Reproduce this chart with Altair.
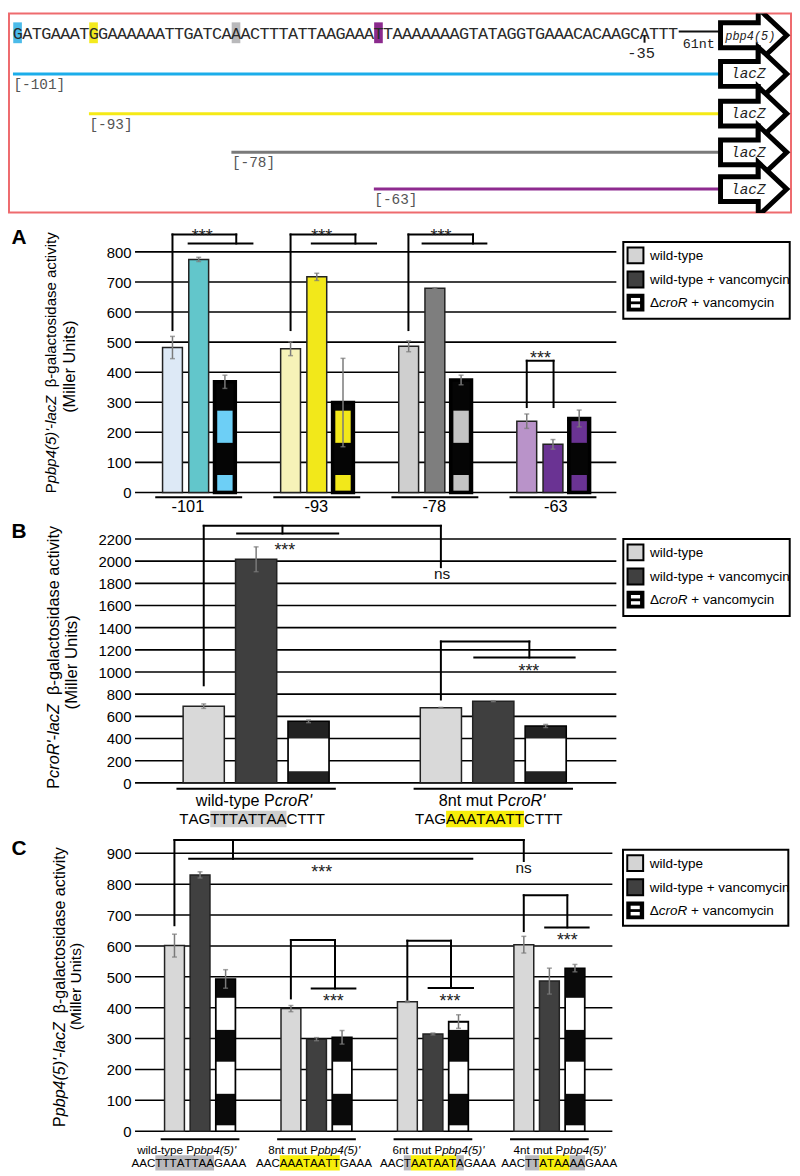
import altair as alt
import pandas as pd

SANS = "Liberation Sans, Arial, Helvetica, sans-serif"
MONO = "Courier New, Liberation Mono, monospace"

# ======================= DATA =======================
# --- schematic of the promoter truncations ---
SEQ = "GATGAAATGGAAAAAATTGATCAAACTTTATTAAGAAATTAAAAAAAGTATAGGTGAAACACAAGCATTT"
SEQ_START = -101
TRUNC_STARTS = [-101, -93, -78, -63]
TRUNC_LABELS = ["[-101]", "[-93]", "[-78]", "[-63]"]
TRUNC_LINE_COLORS = ["#1badea", "#f5ea16", "#7a7a7a", "#8e2b8f"]
TRUNC_HL_COLORS = ["#4bbbe9", "#f4ea1e", "#b9b9bb", "#8b2a8d"]
MARK_POS = -35
MARK_LABEL = "-35"
GAP_LABEL = "61nt"
ARROW_LABELS = ["pbp4(5)", "lacZ", "lacZ", "lacZ", "lacZ"]

# --- panel A ---
A_GROUPS = ["-101", "-93", "-78", "-63"]
A_WT = [482, 478, 486, 237]
A_WT_ERR = [37, 23, 18, 24]
A_VANC = [775, 717, 679, 160]
A_VANC_ERR = [7, 12, 2, 16]
A_DCROR = [368, 299, 374, 246]
A_DCROR_ERR = [22, 147, 16, 28]
A_WT_COLORS = ["#dde9f6", "#f6f2b8", "#cfcfcf", "#b993c9"]
A_VANC_COLORS = ["#62c6cb", "#f2e81a", "#7e7e7e", "#6a3393"]
A_STRIPE_COLORS = ["#6dcff6", "#f2e81a", "#c4c4c4", "#6a3393"]
A_BRACKETS = [
    (-0.222, 540, -0.222, 858), (-0.222, 858, 0.318, 858), (0.318, 858, 0.318, 828), (-0.085, 828, 0.455, 828),
    (0.778, 540, 0.778, 858), (0.778, 858, 1.327, 858), (1.327, 858, 1.327, 828), (0.958, 828, 1.502, 828),
    (1.776, 540, 1.776, 858), (1.776, 858, 2.323, 858), (2.323, 858, 2.323, 828), (1.896, 828, 2.436, 828),
    (2.778, 284, 2.778, 438), (2.778, 438, 3.005, 438), (3.005, 438, 3.005, 284),
]
A_SIG = [(0.03, 866, "***"), (1.042, 866, "***"), (2.052, 866, "***"), (2.894, 459, "***")]

# --- panel B ---
B_GROUPS = [[("wild-type P", False), ("croR'", True)], [("8nt mut P", False), ("croR'", True)]]
B_SEQS = ["TAGTTTATTAACTTT", "TAGAAATAATTCTTT"]
B_SEQ_HL = [[(3, 11, "gray")], [(3, 11, "yellow")]]
B_WT = [692, 677]
B_WT_ERR = [20, 4]
B_VANC = [2017, 737]
B_VANC_ERR = [112, 4]
B_DCROR = [555, 513]
B_DCROR_ERR = [12, 14]
B_BRACKETS = [
    (-0.221, 880, -0.221, 2319), (-0.221, 2319, 0.779, 2319), (0.779, 2319, 0.779, 1946),
    (0.111, 2319, 0.111, 2250), (-0.08, 2250, 0.346, 2250),
    (0.779, 752, 0.779, 1275), (0.779, 1275, 1.152, 1275), (1.152, 1275, 1.152, 1131), (0.92, 1131, 1.343, 1131),
]
B_SIG = [(0.121, 2140, "***"), (0.784, 1880, "ns"), (1.15, 1043, "***")]

# --- panel C ---
C_GROUPS = [[("wild-type P", False), ("pbp4(5)'", True)], [("8nt mut P", False), ("pbp4(5)'", True)],
            [("6nt mut P", False), ("pbp4(5)'", True)], [("4nt mut P", False), ("pbp4(5)'", True)]]
C_SEQS = ["AACTTTATTAAGAAA", "AACAAATAATTGAAA", "AACTAATAATAGAAA", "AACTTATAAAAGAAA"]
C_SEQ_HL = [[(3, 11, "gray")], [(3, 11, "yellow")],
            [(3, 4, "gray"), (4, 10, "yellow"), (10, 11, "gray")],
            [(3, 5, "gray"), (5, 9, "yellow"), (9, 11, "gray")]]
C_WT = [601, 397, 419, 604]
C_WT_ERR = [37, 10, 2, 27]
C_VANC = [830, 298, 315, 486]
C_VANC_ERR = [10, 5, 3, 42]
C_DCROR = [493, 304, 355, 528]
C_DCROR_ERR = [30, 22, 22, 12]
C_BRACKETS = [
    (-0.22, 667, -0.22, 943), (-0.22, 943, 2.78, 943), (2.78, 943, 2.78, 875),
    (0.283, 943, 0.283, 882), (-0.093, 882, 2.338, 882),
    (0.78, 430, 0.78, 619), (0.78, 619, 1.159, 619), (1.159, 619, 1.159, 462), (0.959, 462, 1.334, 462),
    (1.78, 426, 1.78, 617), (1.78, 617, 2.155, 617), (2.155, 617, 2.155, 464), (1.963, 464, 2.344, 464),
    (2.78, 648, 2.78, 764), (2.78, 764, 3.154, 764), (3.154, 764, 3.154, 660), (2.964, 660, 3.337, 660),
]
C_SIG = [(1.045, 851, "***"), (2.778, 853, "ns"), (1.145, 434, "***"), (2.146, 434, "***"), (3.154, 633, "***")]

LEGEND_LABELS = [[("wild-type", False)], [("wild-type + vancomycin", False)],
                 [("Δ", False), ("croR", True), (" + vancomycin", False)]]
LEGEND_COLORS = ["#d4d4d4", "#404040", "#000000"]

TITLE_A = [("P", False), ("pbp4(5)'", True), ("-", False), ("lacZ", True), ("  β-galactosidase activity", False)]
TITLE_B = [("P", False), ("croR'", True), ("-", False), ("lacZ", True), ("  β-galactosidase activity", False)]
TITLE_2 = [("(Miller Units)", False)]

# ======================= helpers =======================
AW = {' ': 278, "'": 191, '(': 333, ')': 333, '*': 389, '+': 584, '-': 333, '.': 278, '[': 278, ']': 278,
      'A': 667, 'B': 667, 'C': 722, 'D': 722, 'E': 667, 'F': 611, 'G': 778, 'H': 722, 'I': 278, 'J': 500,
      'K': 667, 'L': 556, 'M': 833, 'N': 722, 'O': 778, 'P': 667, 'Q': 778, 'R': 722, 'S': 667, 'T': 611,
      'U': 722, 'V': 667, 'W': 944, 'X': 667, 'Y': 667, 'Z': 611,
      'a': 556, 'b': 556, 'c': 500, 'd': 556, 'e': 556, 'f': 278, 'g': 556, 'h': 556, 'i': 222, 'j': 222,
      'k': 500, 'l': 222, 'm': 833, 'n': 556, 'o': 556, 'p': 556, 'q': 556, 'r': 333, 's': 500, 't': 278,
      'u': 556, 'v': 500, 'w': 722, 'x': 500, 'y': 500, 'z': 500, 'β': 575, 'Δ': 668}


def tw(s, fs):
    return sum(AW.get(ch, 556) for ch in s) * fs / 1000.0


def fit_fs(segs, length):
    return length / tw("".join(s for s, _ in segs), 1.0)


OX = 136.0  # page x of every panel's plot origin


class Txt:
    def __init__(self, oy):
        self.oy, self.g = oy, {}

    def add(self, x, y, t, s, c="#000000", italic=False, bold=False, align="left", angle=0, font=SANS):
        key = (italic, bold, align, angle, font)
        self.g.setdefault(key, []).append({"x": x - OX, "y": y - self.oy, "t": t, "s": s, "c": c})

    def rich(self, segs, x, y, fs, c="#000000", angle=0, font=SANS):
        total = sum(tw(s, fs) for s, _ in segs)
        d = -total / 2.0
        for s, it in segs:
            body = s.lstrip(" ")
            d0 = d + tw(s[:len(s) - len(body)], fs)
            body = body.rstrip(" ")
            if body:
                if angle == 0:
                    self.add(x + d0, y, body, fs, c, it, align="left", font=font)
                else:
                    self.add(x, y - d0, body, fs, c, it, align="left", angle=angle, font=font)
            d += tw(s, fs)

    def seq(self, rects, seq, hls, cx, cy, fs, hh, hlcol):
        total = tw(seq, fs)
        x = cx - total / 2.0
        for a, b, k in hls:
            rects.add(x + tw(seq[:a], fs), cy - hh / 2, x + tw(seq[:b], fs), cy + hh / 2, hlcol[k])
        for ch in seq:
            w = tw(ch, fs)
            self.add(x + w / 2, cy, ch, fs, align="center")
            x += w

    def layers(self):
        out = []
        for (it, bd, al, an, fo), rows in self.g.items():
            out.append(alt.Chart(pd.DataFrame(rows)).mark_text(
                align=al, baseline="middle", font=fo, angle=an,
                fontStyle="italic" if it else "normal", fontWeight="bold" if bd else "normal").encode(
                x=alt.X("x:Q", scale=None, axis=None), y=alt.Y("y:Q", scale=None, axis=None),
                text=alt.Text("t:N"), size=alt.Size("s:Q", scale=None, legend=None),
                color=alt.Color("c:N", scale=None, legend=None)))
        return out


class Rects:
    def __init__(self, oy):
        self.oy, self.rows = oy, []

    def add(self, x1, y1, x2, y2, c):
        self.rows.append({"x": x1 - OX, "x2": x2 - OX, "y": y1 - self.oy, "y2": y2 - self.oy, "c": c})

    def layer(self, **mk):
        return alt.Chart(pd.DataFrame(self.rows)).mark_rect(**mk).encode(
            x=alt.X("x:Q", scale=None, axis=None), x2="x2:Q",
            y=alt.Y("y:Q", scale=None, axis=None), y2="y2:Q",
            color=alt.Color("c:N", scale=None, legend=None))


def legend_layers(top, box):
    x0, y0, x1, y1 = box
    frame = Rects(top)
    frame.add(x0, y0, x1, y1, "#ffffff")
    sw = Rects(top)
    inner = Rects(top)
    t = Txt(top)
    for k, off in enumerate([13.5, 37.8, 61.1]):
        yc = y0 + off
        sx0 = x0 + 4.3
        sw.add(sx0, yc - 8, sx0 + 16, yc + 8, LEGEND_COLORS[k])
        if k == 2:
            inner.add(sx0 + 3.4, yc - 4.7, sx0 + 12.6, yc - 1.2, "#ffffff")
            inner.add(sx0 + 3.4, yc + 1.6, sx0 + 12.6, yc + 5.1, "#ffffff")
        segs = LEGEND_LABELS[k]
        total = sum(tw(s, 13.6) for s, _ in segs)
        t.rich(segs, x0 + 27 + total / 2, yc + 0.5, 13.6)
    return [frame.layer(stroke="#000000", strokeWidth=2),
            sw.layer(stroke="#000000", strokeWidth=2),
            inner.layer()] + t.layers()


def bar_panel(cfg):
    xs = alt.Scale(domain=cfg["xdom"], nice=False, zero=False)
    ys = alt.Scale(domain=[0, cfg["ymax"]], nice=False, zero=False)
    off = cfg["off"]
    n = len(cfg["wt"])
    X = lambda f: alt.X(f, scale=xs, axis=None)
    Y = lambda f: alt.Y(f, scale=ys, axis=None)

    r12, r3, rs, re = [], [], [], []
    for g in range(n):
        r12.append({"x": g - off, "v": cfg["wt"][g], "c": cfg["c1"][g]})
        r12.append({"x": g, "v": cfg["vc"][g], "c": cfg["c2"][g]})
        r3.append({"x": g + off, "v": cfg["dl"][g]})
        for lo, hi in cfg["bands"]:
            lo2 = max(lo, cfg["clip_lo"])
            hi2 = min(hi, cfg["dl"][g] - cfg["clip_top"])
            if hi2 > lo2:
                rs.append({"x": g + off, "lo": lo2, "hi": hi2, "c": cfg["sc"][g]})
        for j, (v, e) in enumerate([(cfg["wt"][g], cfg["wte"][g]), (cfg["vc"][g], cfg["vce"][g]),
                                    (cfg["dl"][g], cfg["dle"][g])]):
            re.append({"x": g + (j - 1) * off, "lo": v - e, "hi": v + e})

    L = []
    gd = pd.DataFrame({"v": cfg["ticks"]})
    L.append(alt.Chart(pd.DataFrame(r12)).mark_bar(size=cfg["bw"], stroke="#222222", strokeWidth=1.5,
                                                  orient="vertical").encode(
        x=X("x:Q"), y=alt.Y("v:Q", scale=ys, axis=None, stack=None),
        color=alt.Color("c:N", scale=None, legend=None)))
    # gridlines + tick labels drawn from the y scale (under the bars via zindex order below)
    grid = alt.Chart(gd).mark_rule(color="#000000", strokeWidth=1.6).encode(
        y=Y("v:Q"), x=alt.value(0), x2=alt.value(cfg["w"]))
    labels = alt.Chart(gd).mark_text(align="right", baseline="middle", font=SANS, fontSize=15,
                                     color="#000000", dy=1).encode(
        y=Y("v:Q"), x=alt.value(-3.5), text=alt.Text("v:Q", format="d"))
    L = [L[0].mark_bar(size=cfg["bw"], stroke="#222222", strokeWidth=1.5, orient="vertical")]
    L.insert(0, grid)
    L.append(labels)
    L.append(alt.Chart(pd.DataFrame(r3)).mark_bar(size=cfg["bw3"], fill=cfg["b3fill"], stroke="#000000",
                                                 strokeWidth=cfg["b3sw"], orient="vertical").encode(
        x=X("x:Q"), y=alt.Y("v:Q", scale=ys, axis=None, stack=None)))
    L.append(alt.Chart(pd.DataFrame(rs)).mark_bar(size=cfg["sw"], orient="vertical").encode(
        x=X("x:Q"), y=Y("lo:Q"), y2="hi:Q", color=alt.Color("c:N", scale=None, legend=None)))
    ed = pd.DataFrame(re)
    L.append(alt.Chart(ed).mark_rule(color="#7a7a7a", strokeWidth=1.5).encode(x=X("x:Q"), y=Y("lo:Q"), y2="hi:Q"))
    for f in ["lo", "hi"]:
        L.append(alt.Chart(ed).mark_tick(orient="horizontal", size=5, thickness=1.5, color="#7a7a7a").encode(
            x=X("x:Q"), y=Y(f + ":Q")))
    bd = pd.DataFrame(cfg["brackets"], columns=["x1", "y1", "x2", "y2"])
    L.append(alt.Chart(bd).mark_rule(color="#000000", strokeWidth=2, strokeCap="square").encode(
        x=X("x1:Q"), x2="x2:Q", y=Y("y1:Q"), y2="y2:Q"))
    sd = pd.DataFrame(cfg["sig"], columns=["x", "y", "t"])
    stars = sd[sd["t"] == "***"]
    nss = sd[sd["t"] == "ns"]
    L.append(alt.Chart(stars).mark_text(fontSize=18, dy=5, font=SANS, color="#222222").encode(
        x=X("x:Q"), y=Y("y:Q"), text="t:N"))
    if len(nss):
        L.append(alt.Chart(nss).mark_text(fontSize=15.5, font=SANS, color="#111111").encode(
            x=X("x:Q"), y=Y("y:Q"), text="t:N"))
    ud = pd.DataFrame([{"x1": g - cfg["uh"], "x2": g + cfg["uh"], "py": cfg["uy"] - cfg["top"]} for g in range(n)])
    L.append(alt.Chart(ud).mark_rule(color="#000000", strokeWidth=2).encode(
        x=X("x1:Q"), x2="x2:Q", y=alt.Y("py:Q", scale=None, axis=None)))
    L += cfg["extra"]
    return alt.layer(*L).properties(width=cfg["w"], height=cfg["h"])


# ======================= schematic panel =======================
D_TOP, D_H, D_W = 9.0, 201.0, 662.0
CW, SEQ_X0 = 9.57, 13.0
p0 = SEQ_START + (OX - SEQ_X0) / CW
p1 = p0 + D_W / CW
xsD = alt.Scale(domain=[p0, p1], nice=False, zero=False)


def a2p(a):
    return SEQ_START + (a - SEQ_X0) / CW


XD = lambda f: alt.X(f, scale=xsD, axis=None)
YP = lambda f: alt.Y(f, scale=None, axis=None)
LINE_Y = [70, 110, 149, 186]
ARROW_Y = [31, 70, 110, 149, 186]

frame = Rects(D_TOP)
frame.add(8, 8, 798, 210.5, "#ee6b6e")
frame.add(10, 10, 796, 208.5, "#ffffff")
dl = [frame.layer()]
hl = pd.DataFrame([{"x": s + 0.03, "x2": s + 0.94, "y": 18 - D_TOP, "y2": 39 - D_TOP, "c": TRUNC_HL_COLORS[k]}
                   for k, s in enumerate(TRUNC_STARTS)])
dl.append(alt.Chart(hl).mark_rect().encode(x=XD("x:Q"), x2="x2:Q", y=YP("y:Q"), y2="y2:Q",
                                           color=alt.Color("c:N", scale=None, legend=None)))
chars = pd.DataFrame([{"x": SEQ_START + i + 0.5, "y": 29.5 - D_TOP, "t": ch} for i, ch in enumerate(SEQ)])
dl.append(alt.Chart(chars).mark_text(font=MONO, fontSize=17, color="#2a2a2a", baseline="middle").encode(
    x=XD("x:Q"), y=YP("y:Q"), text="t:N"))
end_pos = a2p(727)
lines = pd.DataFrame([{"x": s, "x2": end_pos, "y": LINE_Y[k] - D_TOP, "c": TRUNC_LINE_COLORS[k]}
                      for k, s in enumerate(TRUNC_STARTS)])
dl.append(alt.Chart(lines).mark_rule(strokeWidth=3).encode(x=XD("x:Q"), x2="x2:Q", y=YP("y:Q"),
                                                           color=alt.Color("c:N", scale=None, legend=None)))
segs = pd.DataFrame([
    {"x": SEQ_START + len(SEQ) + 0.1, "x2": end_pos, "y": 27.2 - D_TOP, "y2": 27.2 - D_TOP},
    {"x": MARK_POS + 0.5, "x2": MARK_POS + 0.5, "y": 31.5 - D_TOP, "y2": 38.5 - D_TOP},
])
dl.append(alt.Chart(segs).mark_rule(strokeWidth=2, color="#111111").encode(
    x=XD("x:Q"), x2="x2:Q", y=YP("y:Q"), y2="y2:Q"))
lab = pd.DataFrame([{"x": s + 0.05, "y": LINE_Y[k] + 11 - D_TOP, "t": TRUNC_LABELS[k]}
                    for k, s in enumerate(TRUNC_STARTS)])
dl.append(alt.Chart(lab).mark_text(font=MONO, fontSize=14.5, color="#555555", align="left",
                                   baseline="middle").encode(x=XD("x:Q"), y=YP("y:Q"), text="t:N"))
misc = pd.DataFrame([{"x": a2p(646), "y": 48.5 - D_TOP, "t": MARK_LABEL, "s": 15.5},
                     {"x": a2p(704), "y": 39.5 - D_TOP, "t": GAP_LABEL, "s": 13.5}])
dl.append(alt.Chart(misc).mark_text(font=MONO, color="#222222", baseline="middle").encode(
    x=XD("x:Q"), y=YP("y:Q"), text="t:N", size=alt.Size("s:Q", scale=None, legend=None)))
ARROW = "M-1,-0.375L0.139,-0.375L0.139,-0.81L1,0L0.139,0.81L0.139,0.375L-1,0.375Z"
arr = pd.DataFrame([{"x": a2p(759.35), "y": yy - D_TOP} for yy in ARROW_Y])
dl.append(alt.Chart(arr).mark_point(shape=ARROW, size=4449, filled=True, fill="#ffffff", stroke="#000000",
                                    strokeWidth=5, opacity=1, clip=True).encode(x=XD("x:Q"), y=YP("y:Q")))
alab = pd.DataFrame([{"x": a2p(756 if k == 0 else 754), "y": ARROW_Y[k] + 0.5 - D_TOP, "t": t,
                      "s": 12 if k == 0 else 14.5} for k, t in enumerate(ARROW_LABELS)])
dl.append(alt.Chart(alab).mark_text(font=MONO, fontStyle="italic", color="#222222", baseline="middle").encode(
    x=XD("x:Q"), y=YP("y:Q"), text="t:N", size=alt.Size("s:Q", scale=None, legend=None)))
diag = alt.layer(*dl).properties(width=D_W, height=D_H)

# ======================= panel A =======================
A_TOP, A_ZERO, A_K = 218.0, 491.7, 0.303
A_H = A_ZERO - A_TOP
tA = Txt(A_TOP)
tA.add(19, 235.5, "A", 21, bold=True, align="center")
tA.rich(TITLE_A, 51, 361, fit_fs(TITLE_A, 263), angle=270)
tA.rich(TITLE_2, 71, 365, fit_fs(TITLE_2, 93), angle=270)
for k, (lbl, cx) in enumerate(zip(A_GROUPS, [189.3, 318.7, 437.5, 560.0])):
    tA.add(cx, 506, lbl, 16.5, align="center")
A_G0, A_STEP, A_W = 196.4, 121.5, 485.0
cfgA = dict(
    top=A_TOP, h=A_H, w=A_W, ymax=A_H / A_K,
    xdom=[-(A_G0 - OX) / A_STEP, (OX + A_W - A_G0) / A_STEP], off=0.222,
    wt=A_WT, wte=A_WT_ERR, vc=A_VANC, vce=A_VANC_ERR, dl=A_DCROR, dle=A_DCROR_ERR,
    c1=A_WT_COLORS, c2=A_VANC_COLORS, sc=A_STRIPE_COLORS,
    bw=20, bw3=21, b3fill="#050505", b3sw=3.5, sw=15.5,
    bands=[(0, 58), (165, 272), (378, 485), (592, 699)], clip_lo=6, clip_top=9,
    ticks=list(range(0, 801, 100)), brackets=A_BRACKETS, sig=A_SIG, uh=0.368, uy=496.5,
    extra=legend_layers(A_TOP, (628, 239.3, 795.7, 316.7)) + tA.layers(),
)
panelA = bar_panel(cfgA)

# ======================= panel B =======================
B_TOP, B_ZERO, B_K = 499.7, 784.0, 245.7 / 2200
B_H = B_ZERO - B_TOP
tB = Txt(B_TOP)
rB = Rects(B_TOP)
tB.add(19, 531, "B", 21, bold=True, align="center")
tB.rich(TITLE_B, 54, 657.5, fit_fs(TITLE_B, 265), angle=270)
tB.rich(TITLE_2, 73, 662.5, fit_fs(TITLE_2, 95), angle=270)
for k, cx in enumerate([255.8, 495.8]):
    tB.rich(B_GROUPS[k], cx, 802.5, 16.3)
for k, cx in enumerate([254.0, 492.5]):
    tB.seq(rB, B_SEQS[k], B_SEQ_HL[k], cx, 820.5, 15.2, 16.6, {"gray": "#cfcfcf", "yellow": "#f7ee0a"})
B_G0, B_STEP, B_W = 255.5, 244.0, 485.0
cfgB = dict(
    top=B_TOP, h=B_H, w=B_W, ymax=B_H / B_K,
    xdom=[-(B_G0 - OX) / B_STEP, (OX + B_W - B_G0) / B_STEP], off=0.221,
    wt=B_WT, wte=B_WT_ERR, vc=B_VANC, vce=B_VANC_ERR, dl=B_DCROR, dle=B_DCROR_ERR,
    c1=["#d9d9d9", "#d9d9d9"], c2=["#3f3f3f", "#3f3f3f"], sc=["#ffffff", "#ffffff"],
    bw=41.5, bw3=41.5, b3fill="#222222", b3sw=1.5, sw=39.5,
    bands=[(104, 400), (696, 992)], clip_lo=4, clip_top=12,
    ticks=list(range(0, 2201, 200)), brackets=B_BRACKETS, sig=B_SIG, uh=0.336, uy=790,
    extra=legend_layers(B_TOP, (628, 538.3, 795.7, 616)) + [rB.layer()] + tB.layers(),
)
panelB = bar_panel(cfgB)

# ======================= panel C =======================
C_TOP, C_ZERO, C_K = 792.0, 1134.3, 280.0 / 900
C_H = C_ZERO - C_TOP
tC = Txt(C_TOP)
rC = Rects(C_TOP)
tC.add(19, 850, "C", 21, bold=True, align="center")
tC.rich(TITLE_A, 60, 989, fit_fs(TITLE_A, 282), angle=270)
tC.rich(TITLE_2, 77, 988.5, fit_fs(TITLE_2, 88), angle=270)
for k, cx in enumerate([188.0, 316.5, 441.7, 563.8]):
    tC.rich(C_GROUPS[k], cx, 1153.5, 11.7)
for k, cx in enumerate([190.3, 316.3, 441.3, 563.5]):
    tC.seq(rC, C_SEQS[k], C_SEQ_HL[k], cx, 1166.2, 11.7, 15.3, {"gray": "#b8b8bc", "yellow": "#f7ee0a"})
C_G0, C_STEP, C_W = 197.8, 119.83, 481.0
cfgC = dict(
    top=C_TOP, h=C_H, w=C_W, ymax=C_H / C_K,
    xdom=[-(C_G0 - OX) / C_STEP, (OX + C_W - C_G0) / C_STEP], off=0.2195,
    wt=C_WT, wte=C_WT_ERR, vc=C_VANC, vce=C_VANC_ERR, dl=C_DCROR, dle=C_DCROR_ERR,
    c1=["#d8d8d8"] * 4, c2=["#404040"] * 4, sc=["#ffffff"] * 4,
    bw=20, bw3=20, b3fill="#0a0a0a", b3sw=1.5, sw=18,
    bands=[(0, 19), (121, 225), (328, 432), (535, 639)], clip_lo=2.5, clip_top=4,
    ticks=list(range(0, 901, 100)), brackets=C_BRACKETS, sig=C_SIG, uh=0.338, uy=1142.5,
    extra=legend_layers(C_TOP, (627.7, 850.7, 794.3, 927.3)) + [rC.layer()] + tC.layers(),
)
panelC = bar_panel(cfgC)

chart = alt.vconcat(diag, panelA, panelB, panelC, spacing=8, bounds="flush").properties(
    padding=0).configure_view(stroke=None)
chart.save("out.html", embed_options={"renderer": "svg", "actions": False})
